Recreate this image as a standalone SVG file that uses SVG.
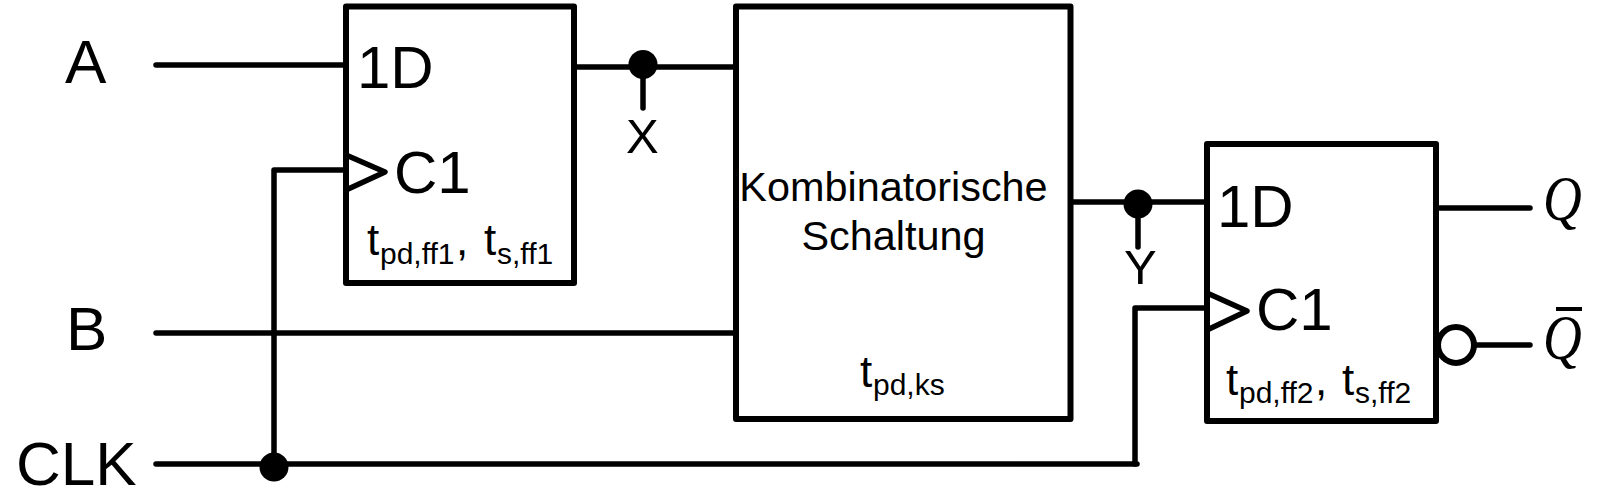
<svg xmlns="http://www.w3.org/2000/svg" width="1599" height="500" viewBox="0 0 1599 500">
<style>
.w{fill:none;stroke:#000;stroke-width:5.5;stroke-linecap:round;stroke-linejoin:round}
.b{fill:#fff;stroke:#000;stroke-width:6;stroke-linejoin:round}
.d{fill:#000}
text{font-family:"Liberation Sans",Arial,sans-serif;fill:#000}
.q{font-family:"Liberation Serif","Times New Roman",serif;font-style:italic;font-size:64px}
.t{font-size:44px}
.s{font-size:30px}
.l{font-size:60px}
.n{font-size:62px}
.p{font-size:49px}
.k{font-size:41.4px;text-anchor:middle}
</style>
<rect width="1599" height="500" fill="#fff"/>
<g id="connectors">
<path class="w" d="M156 65H346"/>
<path class="w" d="M274 467V170H346"/>
<path class="w" d="M156 333H736"/>
<path class="w" d="M156 464H1137"/>
<path class="w" d="M1135 464V308H1207"/>
<path class="w" d="M576 67H736"/>
<path class="w" d="M643 67V108"/>
<path class="w" d="M1072 202H1207"/>
<path class="w" d="M1138 204V247"/>
<path class="w" d="M1437 208H1530"/>
<path class="w" d="M1474 345H1530"/>
<circle class="d" cx="274" cy="467" r="14.5"/>
<circle class="d" cx="643" cy="64.5" r="14.5"/>
<circle class="d" cx="1138" cy="204" r="14.5"/>
</g>
<g id="ff1">
<rect class="b" x="346" y="6.5" width="228" height="276.5"/>
<path class="w" d="M346 155L385 172L346 190"/>
<text class="l" x="357" y="88">1D</text>
<text class="l" x="394" y="193">C1</text>
<text class="t" x="367" y="255">t</text>
<text class="s" x="380" y="264">pd,ff1</text>
<text class="t" x="456" y="255">,</text>
<text class="t" x="484" y="255">t</text>
<text class="s" x="497" y="264">s,ff1</text>
</g>
<g id="ks">
<rect class="b" x="736" y="6.5" width="334.5" height="412.5"/>
<text class="k" x="893.5" y="201">Kombinatorische</text>
<text class="k" x="893.5" y="250">Schaltung</text>
<text class="t" x="860" y="387">t</text>
<text class="s" x="873" y="395">pd,ks</text>
</g>
<g id="ff2">
<rect class="b" x="1207" y="144" width="229" height="277"/>
<path class="w" d="M1207 293L1247 311L1207 330"/>
<text class="l" x="1217" y="227">1D</text>
<text class="l" x="1256" y="330">C1</text>
<text class="t" x="1226" y="395">t</text>
<text class="s" x="1239" y="403">pd,ff2</text>
<text class="t" x="1315" y="395">,</text>
<text class="t" x="1342" y="395">t</text>
<text class="s" x="1355" y="403">s,ff2</text>
<circle cx="1456" cy="345" r="18" fill="#fff" stroke="#000" stroke-width="6"/>
</g>
<g id="labels">
<text class="n" x="65" y="83">A</text>
<text class="n" x="66" y="350">B</text>
<text class="n" x="16" y="485">CLK</text>
<text class="p" x="626" y="153">X</text>
<text class="p" x="1124" y="284">Y</text>
<text class="q" transform="translate(1543 220) scale(.84 1)">Q</text>
<text class="q" transform="translate(1543 359) scale(.84 1)">Q</text>
<path d="M1556 309H1582" stroke="#000" stroke-width="4"/>
</g>
</svg>
